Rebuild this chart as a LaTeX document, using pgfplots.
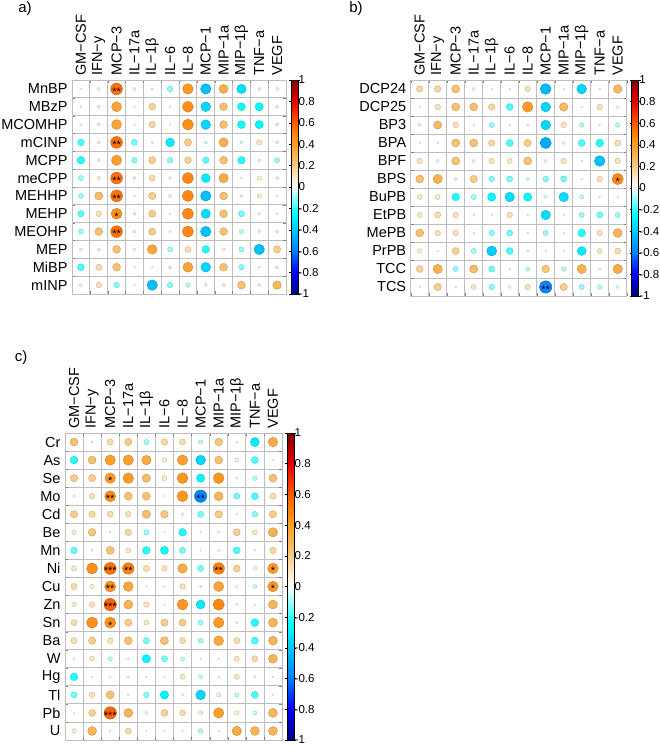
\documentclass[border=0pt]{standalone}
\usepackage{pgfplots}
\pgfplotsset{compat=1.18}
\usepackage{pgfplotstable}
\usepackage{fontspec}
\setmainfont{Liberation Sans}
\definecolor{gridgray}{RGB}{190,190,190}

\pgfplotsset{
  colormap={corr}{rgb255(0pt)=(0,0,127) rgb255(5pt)=(0,0,255) rgb255(10pt)=(0,127,255) rgb255(18.75pt)=(0,255,255) rgb255(25pt)=(255,255,255) rgb255(28pt)=(252,226,182) rgb255(31.25pt)=(248,190,105) rgb255(36.25pt)=(255,148,25) rgb255(40pt)=(255,90,0) rgb255(45pt)=(230,0,0) rgb255(50pt)=(127,0,0)},
  corrax/.style={
    scale only axis, y dir=reverse,
    xmin=0.5, xmax=12.5, ymin=0.5, ymax=#1.5,
    xtick={1,...,12}, ytick={1,...,#1},
    xticklabels={GM−CSF,IFN−y,MCP−3,IL−17a,IL−1β,IL−6,IL−8,MCP−1,MIP−1a,MIP−1β,TNF−a,VEGF},
    xticklabel pos=upper,
    major tick length=0pt,
    minor xtick={0.5,1.5,...,12.5}, minor ytick={0.5,1.5,...,#1.5},
    grid=minor, minor grid style={gridgray, line width=0.8pt},
    axis line style={gridgray, line width=0.8pt},
    tick label style={font=\fontsize{14.5}{14.5}\selectfont},
    xticklabel style={rotate=90, anchor=west, xshift=1pt},
    yticklabel style={anchor=east, xshift=-1pt},
    point meta min=-1, point meta max=1,
    colormap name=corr,
    colorbar,
    colorbar style={
      width=7pt,
      at={(parent axis.north east)}, anchor=north west, xshift=-3.5pt,
      ytick={-1,-0.8,...,1.01},
      yticklabels={-1,-0.8,-0.6,-0.4,-0.2,0,0.2,0.4,0.6,0.8,1},
      yticklabel pos=right,
      major tick length=2pt, tick align=outside,
      tick style={black, line width=0.5pt},
      axis line style={black, line width=0.5pt},
      yticklabel style={font=\fontsize{11.5}{11.5}\selectfont, anchor=west, inner sep=0pt, xshift=-1.5pt},
    },
  },
  stars/.style={draw=none, mark=none, nodes near coords, point meta=explicit symbolic,
    nodes near coords style={anchor=center, yshift=-2.6pt, font=\fontsize{11}{11}\selectfont, inner sep=0pt, text=black}},
}

\pgfplotstableread{
c1 c2 c3 c4 c5 c6 c7 c8 c9 c10 c11 c12
-0.02 -0.04 0.54 0.04 -0.02 -0.12 0.43 -0.42 0.32 -0.34 -0.04 0.04
-0.02 -0.04 0.38 0.01 0.18 0.02 0.46 -0.36 0.24 -0.24 -0.26 -0.04
-0.02 -0.04 0.38 0.01 0.16 0.01 0.46 -0.36 0.24 -0.24 -0.26 -0.04
-0.18 0.04 0.54 -0.14 -0.02 -0.30 0.20 -0.04 0.32 -0.04 0.12 -0.04
-0.22 -0.04 0.40 -0.12 0.20 -0.12 0.18 -0.16 0.24 -0.22 -0.04 -0.10
-0.10 0.06 0.54 -0.04 0.14 0.04 0.48 -0.30 0.34 -0.02 0.08 -0.04
-0.10 0.26 0.54 -0.02 0.20 -0.04 0.48 -0.42 0.24 -0.04 0.08 -0.02
-0.16 0.12 0.46 -0.04 0.20 0.01 0.48 -0.34 0.24 -0.14 0.04 0.02
-0.10 0.24 0.54 -0.04 0.20 0.02 0.48 -0.42 0.24 -0.07 0.04 -0.04
0.04 0.04 0.24 0.04 0.36 -0.10 0.14 -0.22 0.04 -0.10 -0.42 0.20
-0.18 0.14 0.24 0.01 0.01 -0.04 0.38 -0.36 0.24 -0.12 -0.02 0.04
0.04 0.12 -0.12 0.02 -0.42 -0.12 -0.08 0.04 -0.04 0.24 0.04 0.28
}\tabA

\pgfplotstableread{
c1 c2 c3 c4 c5 c6 c7 c8 c9 c10 c11 c12
0.16 0.16 0.24 0.04 0.02 -0.02 0.12 -0.44 0.02 -0.36 -0.02 0.28
0.01 0.12 0.24 0.24 0.16 -0.18 0.42 -0.36 0.28 0.01 0.12 0.04
-0.04 0.26 0.12 0.01 -0.10 0.02 -0.02 -0.36 0.12 -0.08 0.01 -0.08
0.01 -0.02 0.24 0.24 0.16 -0.18 0.20 -0.48 0.04 -0.18 -0.22 0.14
0.12 -0.04 0.24 0.04 0.12 0.10 0.24 0.04 0.12 0.02 -0.42 0.12
0.24 0.32 -0.04 0.20 -0.12 -0.14 -0.04 -0.12 -0.14 0.01 0.12 0.48
0.10 0.10 -0.22 -0.10 -0.26 -0.34 -0.26 -0.04 -0.34 -0.07 0.01 0.01
0.10 0.14 0.12 0.02 -0.02 0.12 0.01 -0.34 0.02 -0.10 -0.14 -0.10
0.24 0.12 0.12 0.01 -0.12 -0.14 0.02 -0.10 0.01 -0.22 0.12 0.30
0.08 0.01 0.18 -0.10 -0.38 -0.18 -0.02 -0.01 0.01 -0.30 0.10 0.14
0.18 0.32 -0.10 0.26 -0.14 0.02 -0.07 0.22 -0.08 0.32 0.02 0.34
0.01 0.20 0.02 0.10 -0.12 0.04 0.12 -0.58 0.20 -0.10 -0.08 -0.04
}\tabB

\pgfplotstableread{
c1 c2 c3 c4 c5 c6 c7 c8 c9 c10 c11 c12
0.24 0.02 0.14 0.20 -0.10 0.16 0.14 -0.07 0.22 0.02 -0.30 0.34
-0.22 0.24 0.40 0.40 0.34 0.08 0.40 -0.36 0.24 0.07 -0.18 0.01
0.20 0.20 0.42 0.42 0.26 0.10 0.44 -0.26 0.44 0.02 -0.08 0.24
-0.02 0.12 0.46 0.24 0.24 0.01 0.44 -0.58 0.30 -0.14 -0.18 0.14
0.20 0.16 0.14 0.12 0.26 0.22 0.04 -0.14 0.20 0.01 -0.12 0.20
0.08 0.22 0.02 0.16 -0.10 0.01 -0.22 0.01 -0.02 0.18 0.10 0.32
-0.16 -0.02 0.24 0.10 -0.22 -0.24 -0.14 0.01 0.02 -0.18 -0.02 0.16
0.10 0.46 0.54 0.50 0.14 0.12 0.34 -0.14 0.50 0.18 0.06 0.42
0.14 0.08 0.46 0.36 0.01 0.01 0.12 -0.02 0.38 -0.02 -0.06 0.42
0.08 0.12 0.58 0.30 0.12 0.01 0.44 -0.30 0.48 -0.02 0.01 0.30
0.14 0.46 0.46 0.20 0.10 0.20 0.20 -0.10 0.42 0.02 -0.22 0.30
0.14 0.20 0.12 0.24 -0.14 0.24 0.14 -0.10 0.36 0.14 -0.18 0.30
0.02 0.10 -0.07 0.02 -0.26 -0.14 -0.06 0.01 -0.01 0.10 0.14 0.30
-0.22 0.01 -0.01 -0.02 0.01 0.01 0.10 -0.06 0.02 0.10 0.02 0.01
-0.14 0.12 0.24 0.02 -0.12 -0.26 -0.02 -0.36 0.07 -0.07 -0.18 0.01
0.01 0.18 0.58 0.30 0.04 0.18 0.14 0.07 0.40 0.08 -0.06 0.30
0.08 0.30 0.02 0.14 0.01 0.01 0.01 -0.08 0.01 0.34 0.30 0.30
}\tabC

\begin{document}
\begin{tikzpicture}
\useasboundingbox (0pt,0pt) rectangle (660pt,745pt);

% ---------- panel a ----------
\def\cell{17.83}
\begin{axis}[corrax=12, at={(72pt,665pt)}, anchor=north west, width=214pt, height=214pt,
  yticklabels={MnBP,MBzP,MCOMHP,mCINP,MCPP,meCPP,MEHHP,MEHP,MEOHP,MEP,MiBP,mINP}]
\pgfplotsinvokeforeach{1,...,12}{
  \addplot[scatter, only marks, mark=*, scatter src=explicit,
    visualization depends on={abs(\thisrow{c#1}) \as \av},
    scatter/@pre marker code/.append style={/tikz/mark size={0.45*\cell*sqrt(\av)}}]
    table[x expr=#1, y expr=\coordindex+1, meta=c#1] {\tabA};
}
\addplot[stars] coordinates {(3,1)[**] (3,4)[**] (3,6)[**] (3,7)[**] (3,8)[*] (3,9)[**]};
\end{axis}

% ---------- panel b ----------
\begin{axis}[corrax=12, at={(410.7pt,665pt)}, anchor=north west, width=216pt, height=216pt,
  yticklabels={DCP24,DCP25,BP3,BPA,BPF,BPS,BuPB,EtPB,MePB,PrPB,TCC,TCS}]
\def\cell{18}
\pgfplotsinvokeforeach{1,...,12}{
  \addplot[scatter, only marks, mark=*, scatter src=explicit,
    visualization depends on={abs(\thisrow{c#1}) \as \av},
    scatter/@pre marker code/.append style={/tikz/mark size={0.45*\cell*sqrt(\av)}}]
    table[x expr=#1, y expr=\coordindex+1, meta=c#1] {\tabB};
}
\addplot[stars] coordinates {(12,6)[*] (8,12)[**]};
\end{axis}

% ---------- panel c ----------
\begin{axis}[corrax=17, at={(65pt,312pt)}, anchor=north west, width=217pt, height=307pt,
  yticklabels={Cr,As,Se,Mo,Cd,Be,Mn,Ni,Cu,Zn,Sn,Ba,W,Hg,Tl,Pb,U}]
\def\cell{18.07}
\pgfplotsinvokeforeach{1,...,12}{
  \addplot[scatter, only marks, mark=*, scatter src=explicit,
    visualization depends on={abs(\thisrow{c#1}) \as \av},
    scatter/@pre marker code/.append style={/tikz/mark size={0.45*\cell*sqrt(\av)}}]
    table[x expr=#1, y expr=\coordindex+1, meta=c#1] {\tabC};
}
\addplot[stars] coordinates {(3,3)[*] (3,4)[**] (8,4)[**] (3,8)[***] (4,8)[**] (9,8)[**] (12,8)[*] (3,9)[**] (12,9)[*] (3,10)[***] (3,11)[*] (3,16)[***]};
\end{axis}

\node[font=\fontsize{15}{15}\selectfont] at (25pt,736pt) {a)};
\node[font=\fontsize{15}{15}\selectfont] at (356pt,736pt) {b)};
\node[font=\fontsize{15}{15}\selectfont] at (21pt,387pt) {c)};
\end{tikzpicture}
\end{document}
